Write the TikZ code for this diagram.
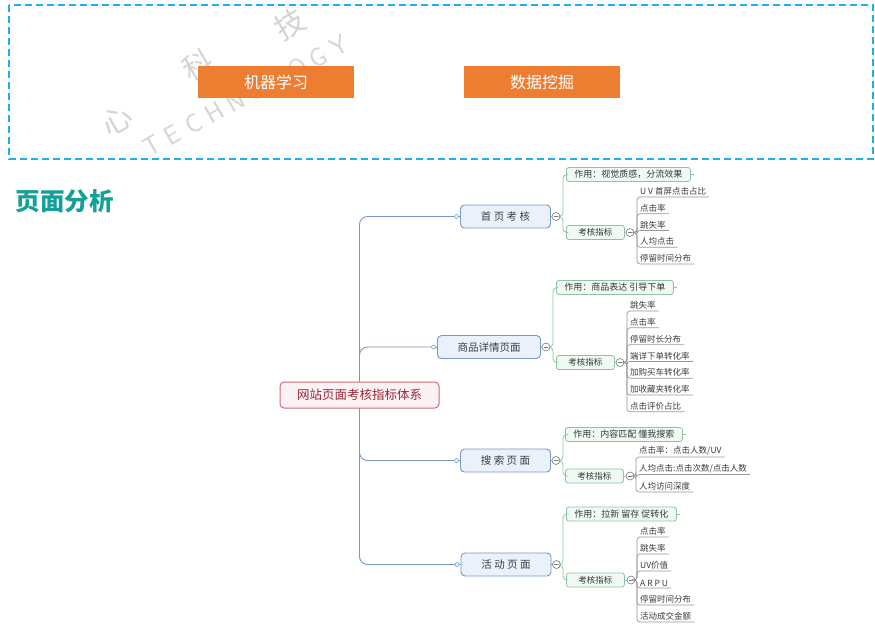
\documentclass[tikz,border=0pt]{standalone}
\usepackage{fontspec}
\setmainfont{Noto Sans CJK SC}
\usetikzlibrary{positioning,
                backgrounds,                % connectors behind the boxes
                calc}

\definecolor{frameBlue}{RGB}{30,176,234}
\definecolor{tagOrange}{RGB}{237,125,49}
\definecolor{titleTeal}{RGB}{18,160,152}
\definecolor{wmGray}{RGB}{212,212,212}
\definecolor{rootRed}{RGB}{212,104,118}
\definecolor{rootFill}{RGB}{253,242,243}
\definecolor{rootText}{RGB}{150,40,58}
\definecolor{pageBlue}{RGB}{118,152,198}
\definecolor{pageFill}{RGB}{234,241,250}
\definecolor{pageText}{RGB}{60,62,72}
\definecolor{subGreen}{RGB}{140,198,160}
\definecolor{subFill}{RGB}{240,249,242}
\definecolor{subText}{RGB}{50,58,54}
\definecolor{leafGray}{RGB}{150,152,150}
\definecolor{leafText}{RGB}{60,60,60}
\definecolor{foldGray}{RGB}{120,120,120}

\begin{document}
\begin{tikzpicture}[x=1pt,y=-1pt,
    orangebox/.style={fill=tagOrange, text=white, minimum width=156pt, minimum height=32pt,
                      inner sep=0pt, font=\fontsize{16}{16}\selectfont},
    rootbox/.style={draw=rootRed, fill=rootFill, text=rootText, line width=1pt, rounded corners=4pt,
                    minimum height=26pt, inner xsep=17pt, font=\fontsize{12.5}{12.5}\selectfont},
    pagebox/.style={draw=pageBlue, fill=pageFill, text=pageText, line width=.9pt, rounded corners=4pt,
                    minimum width=90pt, minimum height=23pt, inner xsep=20pt, font=\fontsize{10.5}{10.5}\selectfont},
    subbox/.style={draw=subGreen, fill=subFill, text=subText, line width=.8pt, rounded corners=2.5pt,
                   minimum height=14pt, inner xsep=8pt, inner ysep=0pt, anchor=west, font=\fontsize{9}{9}\selectfont},
    kpibox/.style={subbox, minimum width=58pt, font=\fontsize{8.5}{8.5}\selectfont},
    leaf/.style={anchor=south west, inner xsep=3pt, inner ysep=1.5pt, text=leafText, font=\fontsize{8.5}{8.5}\selectfont},
    dot/.style={circle, draw=pageBlue, fill=white, line width=.6pt, minimum size=4pt, inner sep=0pt},
    fold/.style={circle, draw=foldGray, fill=white, line width=.6pt, minimum size=8pt, inner sep=0pt,
                 path picture={\draw[foldGray, line width=.7pt] ([xshift=2pt]path picture bounding box.west)
                                 -- ([xshift=-2pt]path picture bounding box.east);}},
    trunk/.style={draw=pageBlue, line width=.9pt, rounded corners=8pt},
    twig/.style={draw=subGreen, line width=.8pt, rounded corners=4pt},
    leafline/.style={draw=leafGray, line width=.7pt, rounded corners=3pt},
    wmark/.style={text=wmGray, font=\fontsize{30}{30}\selectfont, rotate=30, inner sep=0pt}]

  \begin{scope}[on background layer]
    \fill[white] (0,0) rectangle (875,633);
  \end{scope}
  \useasboundingbox (0,0) rectangle (875,633);

  % watermark
  \node[wmark] (wmXin) at (117,120) {心};
  \node[wmark] (wmKe) at (198,65) {科};
  \node[wmark] (wmJi) at (290,24) {技};
  \foreach \c [count=\i] in {T,E,C,H,N,O,L,O,G,Y}
    \node[wmark, font=\fontsize{26}{26}\selectfont\sffamily] (wm\i) at ({152+20.8*(\i-1)},{146-11.1*(\i-1)}) {\c};

  % top frame
  \draw[frameBlue, line width=1.6pt, dash pattern=on 7pt off 4pt] (9,5) rectangle (873,159);
  \node[orangebox] (ml) at (276,82) {机器学习};
  \node[orangebox] (dm) at (542,82) {数据挖掘};

  \node[anchor=west, text=titleTeal, font=\fontsize{24.5}{24.5}\selectfont\bfseries] (title) at (12,201) {页面分析};

  % mind map
  \node[rootbox] (root) at (359.5,395) {网站页面考核指标体系};

  \node[pagebox] (home) at (505.5,216.5) {首 页 考 核};
  \node[pagebox] (detail) at (489,347) {商品详情页面};
  \node[pagebox] (search) at (505.5,460.5) {搜 索 页 面};
  \node[pagebox] (event) at (506,564.5) {活 动 页 面};

  \foreach \p in {home,detail,search,event}{
    \node[dot] (\p Dot) at ($(\p.west)+(-3.5,0)$) {};
    \draw[pageBlue, line width=.8pt] (\p Dot.east) -- (\p.west);
    \node[fold] (\p Fold) at ($(\p.east)+(5,0)$) {};
    \draw[pageBlue, line width=.8pt] (\p.east) -- (\p Fold.west);
    \begin{scope}[on background layer]
      \draw[trunk] (root.center) |- (\p Dot.west);
    \end{scope}
  }

  % home page
  \coordinate (homeFork) at (563,216.5);
  \node[subbox] (homeUse) at (566,174.5) {作用：视觉质感，分流效果};
  \node[kpibox] (homeKpi) at (566,232.5) {考核指标};
  \node[fold] (homeKpiFold) at (630,232.5) {};
  \coordinate (homeLeafFork) at (637,232.5);
  \draw[twig] (homeFold.east) -- (homeFork) |- (homeUse.west);
  \draw[twig] (homeFold.east) -- (homeFork) |- (homeKpi.west);
  \draw[twig] (homeUse.east) -- ++(3,0);
  \draw[twig] (homeKpi.east) -- (homeKpiFold.west);
  \foreach \t [count=\i] in {U V 首屏点击占比, 点击率, 跳失率, 人均点击, 停留时间分布}{
    \node[leaf] (homeLeaf\i) at (637,{197+16.75*(\i-1)}) {\t};
    \draw[leafline] (homeKpiFold.east) -- (homeLeafFork) |- (homeLeaf\i.south east);
  }

  % detail page
  \coordinate (detailFork) at (553,347);
  \node[subbox] (detailUse) at (556,287.5) {作用：商品表达 引导下单};
  \node[kpibox] (detailKpi) at (556,362.5) {考核指标};
  \node[fold] (detailKpiFold) at (620,362.5) {};
  \coordinate (detailLeafFork) at (627,362.5);
  \draw[twig] (detailFold.east) -- (detailFork) |- (detailUse.west);
  \draw[twig] (detailFold.east) -- (detailFork) |- (detailKpi.west);
  \draw[twig] (detailUse.east) -- ++(3,0);
  \draw[twig] (detailKpi.east) -- (detailKpiFold.west);
  \foreach \t [count=\i] in {跳失率, 点击率, 停留时长分布, 端详下单转化率, 加购买车转化率, 加收藏夹转化率, 点击评价占比}{
    \node[leaf] (detailLeaf\i) at (627,{311+16.8*(\i-1)}) {\t};
    \draw[leafline] (detailKpiFold.east) -- (detailLeafFork) |- (detailLeaf\i.south east);
  }

  % search page
  \coordinate (searchFork) at (563,460.5);
  \node[subbox] (searchUse) at (565,434.5) {作用：内容匹配 懂我搜索};
  \node[kpibox] (searchKpi) at (565,476) {考核指标};
  \node[fold] (searchKpiFold) at (630,476) {};
  \coordinate (searchLeafFork) at (636,476);
  \draw[twig] (searchFold.east) -- (searchFork) |- (searchUse.west);
  \draw[twig] (searchFold.east) -- (searchFork) |- (searchKpi.west);
  \draw[twig] (searchUse.east) -- ++(3,0);
  \draw[twig] (searchKpi.east) -- (searchKpiFold.west);
  \foreach \t [count=\i] in {点击率：点击人数/UV, 人均点击:点击次数/点击人数, 人均访问深度}{
    \node[leaf] (searchLeaf\i) at (636,{457+17.5*(\i-1)}) {\t};
    \draw[leafline] (searchKpiFold.east) -- (searchLeafFork) |- (searchLeaf\i.south east);
  }

  % event page
  \coordinate (eventFork) at (563,564.5);
  \node[subbox] (eventUse) at (566,514) {作用：拉新 留存 促转化};
  \node[kpibox] (eventKpi) at (566,580) {考核指标};
  \node[fold] (eventKpiFold) at (631,580) {};
  \coordinate (eventLeafFork) at (637,580);
  \draw[twig] (eventFold.east) -- (eventFork) |- (eventUse.west);
  \draw[twig] (eventFold.east) -- (eventFork) |- (eventKpi.west);
  \draw[twig] (eventUse.east) -- ++(3,0);
  \draw[twig] (eventKpi.east) -- (eventKpiFold.west);
  \foreach \t [count=\i] in {点击率, 跳失率, UV价值, A R P U, 停留时间分布, 活动成交金额}{
    \node[leaf] (eventLeaf\i) at (637,{537+17*(\i-1)}) {\t};
    \draw[leafline] (eventKpiFold.east) -- (eventLeafFork) |- (eventLeaf\i.south east);
  }
\end{tikzpicture}
\end{document}
